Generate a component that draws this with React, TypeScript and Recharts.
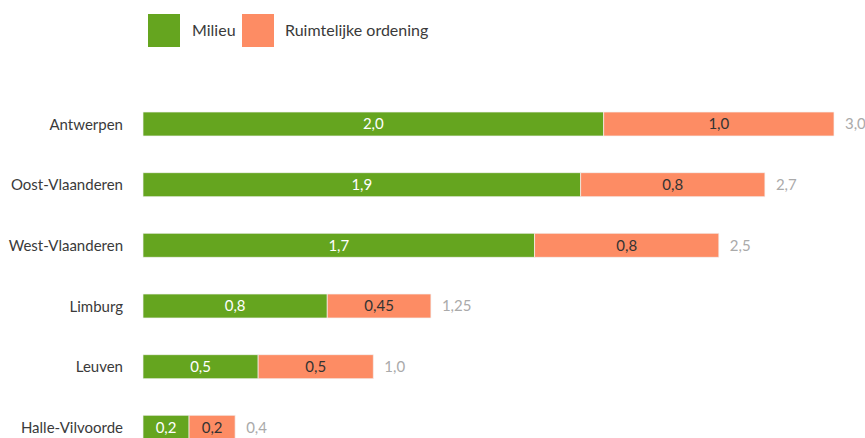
import React from 'react';
import { BarChart, Bar, XAxis, YAxis, LabelList } from 'recharts';

const categories = ['Antwerpen', 'Oost-Vlaanderen', 'West-Vlaanderen', 'Limburg', 'Leuven', 'Halle-Vilvoorde'];
const milieu = [2.0, 1.9, 1.7, 0.8, 0.5, 0.2];
const ruimte = [1.0, 0.8, 0.8, 0.45, 0.5, 0.2];
const totals = [3.0, 2.7, 2.5, 1.25, 1.0, 0.4];

const seriesNames = ['Milieu', 'Ruimtelijke ordening'];
const GREEN = '#65a51f';
const ORANGE = '#fd8c64';
const FONT = 'Lato, "Noto Sans", sans-serif';

const data = categories.map((name, i) => ({
  name,
  milieu: milieu[i],
  ruimte: ruimte[i],
  total: totals[i],
}));

const fmt = (v: any) => {
  const n = Number(v);
  const s = Math.abs(n * 10 - Math.round(n * 10)) < 1e-9 ? n.toFixed(1) : n.toFixed(2);
  return s.replace('.', ',');
};

export default function App() {
  return (
    <div style={{ position: 'relative', width: 865, height: 438, overflow: 'hidden', fontFamily: FONT }}>
      <style>{`html,body{margin:0;padding:0;overflow:hidden;}`}</style>
      <div style={{ position: 'absolute', left: 148, top: 14, width: 32, height: 33, background: GREEN }} />
      <div style={{ position: 'absolute', left: 192, top: 20, fontSize: 16, color: '#3a3a3a', lineHeight: '20px' }}>{seriesNames[0]}</div>
      <div style={{ position: 'absolute', left: 242, top: 14, width: 32, height: 33, background: ORANGE }} />
      <div style={{ position: 'absolute', left: 285, top: 20, fontSize: 16, color: '#3a3a3a', lineHeight: '20px' }}>{seriesNames[1]}</div>
      <BarChart
        width={865}
        height={470}
        data={data}
        layout="vertical"
        margin={{ top: 94, right: 31, bottom: 12, left: 0 }}
      >
        <XAxis type="number" domain={[0, 3]} hide />
        <YAxis
          type="category"
          dataKey="name"
          width={143}
          axisLine={false}
          tickLine={false}
          tickMargin={14}
          tick={{ fill: '#3a3a3a', fontSize: 15, fontFamily: FONT }}
        />
        <Bar dataKey="milieu" stackId="a" fill={GREEN} stroke="#f4f4f4" strokeWidth={0.7} barSize={24} isAnimationActive={false}>
          <LabelList dataKey="milieu" position="center" fill="#fff" fontSize={15} fontFamily={FONT} formatter={fmt} />
        </Bar>
        <Bar dataKey="ruimte" stackId="a" fill={ORANGE} stroke="#f4f4f4" strokeWidth={0.7} barSize={24} isAnimationActive={false}>
          <LabelList dataKey="ruimte" position="center" fill="#333" fontSize={15} fontFamily={FONT} formatter={fmt} />
          <LabelList dataKey="total" position="right" offset={11} fill="#aaa" fontSize={15} fontFamily={FONT} formatter={fmt} />
        </Bar>
      </BarChart>
    </div>
  );
}
